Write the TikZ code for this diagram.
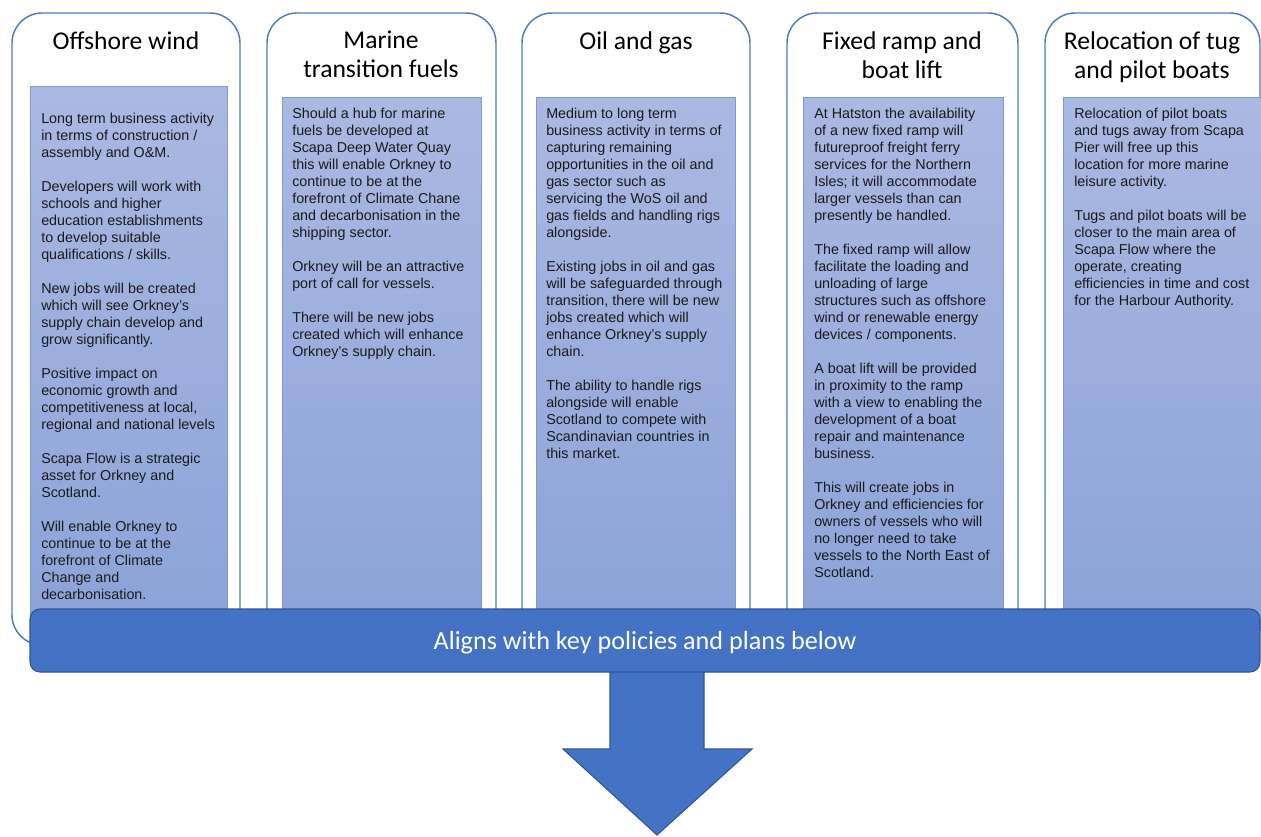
\documentclass[tikz,border=0pt]{standalone}
\usepackage{fontspec}
\setmainfont{Liberation Sans}
\newfontfamily\titlefont{Carlito}
\definecolor{obblue}{HTML}{4472C4}
\definecolor{obdark}{HTML}{2F5597}
\definecolor{outerline}{HTML}{4F7AC7}
\definecolor{innertop}{HTML}{AAB9E2}
\definecolor{innerbot}{HTML}{8CA2D8}
\definecolor{innerline}{HTML}{7F99D4}
\definecolor{bodyink}{HTML}{1A1A1A}
\tikzset{
  outerbox/.style={draw=outerline, line width=1.1pt, fill=white, rounded corners=22.5pt},
  innerbox/.style={draw=innerline, line width=0.6pt, top color=innertop, bottom color=innerbot},
  titletext/.style={anchor=north, align=center, inner sep=0pt, font=\titlefont\fontsize{19.2pt}{21.75pt}\selectfont, text=black},
  bodytext/.style={anchor=north west, align=left, inner sep=0pt, font=\fontsize{10.75pt}{12.75pt}\selectfont, text=bodyink},
  barbox/.style={draw=obdark, line width=0.8pt, fill=obblue, rounded corners=7.5pt, minimum width=922.5pt, minimum height=47.25pt, inner sep=0pt, text=white, font=\titlefont\fontsize{19.6pt}{22pt}\selectfont, text height=12.75pt, text depth=0pt},
  blockarrow/.style={draw=obdark, line width=0.8pt, fill=obblue, line join=miter}
}
\begin{document}
\begin{tikzpicture}[x=0.75pt,y=-0.75pt]
\useasboundingbox (0,0) rectangle (1261,836);
\clip (0,0) rectangle (1261,836);
% outer rounded boxes
\draw[outerbox] (12,13) rectangle (240,645);
\draw[outerbox] (267,13) rectangle (496,645);
\draw[outerbox] (522,13) rectangle (750,645);
\draw[outerbox] (787,13) rectangle (1018,645);
\draw[outerbox] (1045,13) rectangle (1260,645);
% inner boxes
\draw[innerbox] (30,86) rectangle (227,630);
\draw[innerbox] (282,97) rectangle (481,630);
\draw[innerbox] (536,97) rectangle (735,630);
\draw[innerbox] (803,97) rectangle (1003,630);
\draw[innerbox] (1063,97) rectangle (1264,630);
% titles
\node[titletext] (t1) at (126,31) {Offshore wind};
\node[titletext] (t2) at (381,31) {Marine\\transition fuels};
\node[titletext] (t3) at (636,31) {Oil and gas};
\node[titletext] (t4) at (902,31) {Fixed ramp and\\boat lift};
\node[titletext] (t5) at (1152,31) {Relocation of tug\\and pilot boats};
% body texts
\node[bodytext] (b1) at (41,113) {Long term business activity\\in terms of construction /\\assembly and O\&M.\\[12.75pt]Developers will work with\\schools and higher\\education establishments\\to develop suitable\\qualifications / skills.\\[12.75pt]New jobs will be created\\which will see Orkney’s\\supply chain develop and\\grow significantly.\\[12.75pt]Positive impact on\\economic growth and\\competitiveness at local,\\regional and national levels\\[12.75pt]Scapa Flow is a strategic\\asset for Orkney and\\Scotland.\\[12.75pt]Will enable Orkney to\\continue to be at the\\forefront of Climate\\Change and\\decarbonisation.};
\node[bodytext] (b2) at (292,108) {Should a hub for marine\\fuels be developed at\\Scapa Deep Water Quay\\this will enable Orkney to\\continue to be at the\\forefront of Climate Chane\\and decarbonisation in the\\shipping sector.\\[12.75pt]Orkney will be an attractive\\port of call for vessels.\\[12.75pt]There will be new jobs\\created which will enhance\\Orkney’s supply chain.};
\node[bodytext] (b3) at (546,108) {Medium to long term\\business activity in terms of\\capturing remaining\\opportunities in the oil and\\gas sector such as\\servicing the WoS oil and\\gas fields and handling rigs\\alongside.\\[12.75pt]Existing jobs in oil and gas\\will be safeguarded through\\transition, there will be new\\jobs created which will\\enhance Orkney’s supply\\chain.\\[12.75pt]The ability to handle rigs\\alongside will enable\\Scotland to compete with\\Scandinavian countries in\\this market.};
\node[bodytext] (b4) at (814,108) {At Hatston the availability\\of a new fixed ramp will\\futureproof freight ferry\\services for the Northern\\Isles; it will accommodate\\larger vessels than can\\presently be handled.\\[12.75pt]The fixed ramp will allow\\facilitate the loading and\\unloading of large\\structures such as offshore\\wind or renewable energy\\devices / components.\\[12.75pt]A boat lift will be provided\\in proximity to the ramp\\with a view to enabling the\\development of a boat\\repair and maintenance\\business.\\[12.75pt]This will create jobs in\\Orkney and efficiencies for\\owners of vessels who will\\no longer need to take\\vessels to the North East of\\Scotland.};
\node[bodytext] (b5) at (1074,108) {Relocation of pilot boats\\and tugs away from Scapa\\Pier will free up this\\location for more marine\\leisure activity.\\[12.75pt]Tugs and pilot boats will be\\closer to the main area of\\Scapa Flow where the\\operate, creating\\efficiencies in time and cost\\for the Harbour Authority.};
% block arrow
\coordinate (tip) at (657,835);
\draw[blockarrow] (610,665) -- (610,749) -- (563,749) -- (tip) -- (752,749) -- (704,749) -- (704,665) -- cycle;
% bar
\node[barbox] (bar) at (645,640.5) {Aligns with key policies and plans below};
\end{tikzpicture}
\end{document}
